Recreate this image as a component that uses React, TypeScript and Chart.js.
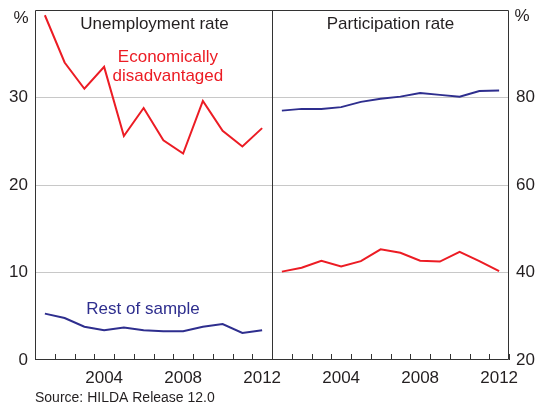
import React, { useEffect, useRef } from "react";
import { Chart, registerables } from "chart.js";

Chart.register(...registerables);

const years = [2001, 2002, 2003, 2004, 2005, 2006, 2007, 2008, 2009, 2010, 2011, 2012];
const labelYears = [2004, 2008, 2012];

// Unemployment rate (%), left panel
const unempDisadv = [39.4, 34.0, 31.0, 33.5, 25.6, 28.8, 25.1, 23.6, 29.6, 26.2, 24.4, 26.5];
const unempRest = [5.3, 4.8, 3.8, 3.4, 3.7, 3.4, 3.3, 3.3, 3.8, 4.1, 3.1, 3.4];

// Participation rate (%), right panel
const partDisadv = [40.2, 41.1, 42.7, 41.4, 42.6, 45.3, 44.5, 42.7, 42.5, 44.7, 42.6, 40.3];
const partRest = [77.0, 77.4, 77.4, 77.8, 79.0, 79.7, 80.2, 81.0, 80.6, 80.2, 81.5, 81.6];

const leftTicks = [0, 10, 20, 30, 40];
const rightTicks = [20, 40, 60, 80, 100];

const RED = "#ec1c24";
const BLUE = "#2e2e8e";
const FRAME = "#333333";
const GRID = "#c8c8c8";
const TEXT = "#231f20";
const FONT = "'Liberation Sans', Arial, sans-serif";

const n = years.length;

const leftPts = (vals: number[]) => vals.map((v, i) => ({ x: i + 0.5, y: v }));
const rightPts = (vals: number[]) => vals.map((v, i) => ({ x: n + i + 0.5, y: v }));

const decorPlugin = {
  id: "decor",
  afterDatasetsDraw(chart: any) {
    const { ctx, chartArea: a, scales } = chart;
    const xs = scales.x;
    ctx.save();
    // frame
    ctx.strokeStyle = FRAME;
    ctx.lineWidth = 1;
    ctx.beginPath();
    ctx.rect(a.left + 0.5, a.top + 0.5, a.right - a.left - 1, a.bottom - a.top - 1);
    ctx.stroke();
    // divider
    const xd = Math.round(xs.getPixelForValue(n)) + 0.5;
    ctx.beginPath();
    ctx.moveTo(xd, a.top);
    ctx.lineTo(xd, a.bottom);
    ctx.stroke();
    // inner tick marks at year boundaries
    ctx.beginPath();
    for (let i = 0; i <= 2 * n; i++) {
      const x = Math.round(xs.getPixelForValue(i)) + 0.5;
      ctx.moveTo(x, a.bottom);
      ctx.lineTo(x, a.bottom - 6);
    }
    ctx.stroke();

    // texts
    ctx.textAlign = "center";
    ctx.textBaseline = "middle";
    ctx.font = `17px ${FONT}`;
    ctx.fillStyle = TEXT;
    const leftMid = (xs.getPixelForValue(0) + xs.getPixelForValue(n)) / 2;
    const rightMid = (xs.getPixelForValue(n) + xs.getPixelForValue(2 * n)) / 2;
    ctx.fillText("Unemployment rate", leftMid + 1, a.top + 14);
    ctx.fillText("Participation rate", rightMid, a.top + 14);
    ctx.fillText("%", a.left - 14, a.top + 8);
    ctx.fillText("%", a.right + 13, a.top + 6);

    ctx.fillStyle = RED;
    ctx.fillText("Economically", xs.getPixelForValue(6.73), a.top + 47);
    ctx.fillText("disadvantaged", xs.getPixelForValue(6.73), a.top + 66);

    ctx.fillStyle = BLUE;
    ctx.fillText("Rest of sample", xs.getPixelForValue(5.47), a.top + 299);

    ctx.textAlign = "left";
    ctx.font = `14px ${FONT}`;
    ctx.fillStyle = TEXT;
    ctx.fillText("Source: HILDA Release 12.0", a.left, a.bottom + 38);
    ctx.restore();
  },
};

export default function App() {
  const ref = useRef<HTMLCanvasElement>(null);

  useEffect(() => {
    if (!ref.current) return;
    const lineDs = (data: any[], color: string, axis: string) => ({
      data,
      borderColor: color,
      backgroundColor: color,
      borderWidth: 2,
      pointRadius: 0,
      tension: 0,
      yAxisID: axis,
    });
    const chart = new Chart(ref.current, {
      type: "line",
      data: {
        datasets: [
          lineDs(leftPts(unempDisadv), RED, "y"),
          lineDs(leftPts(unempRest), BLUE, "y"),
          lineDs(rightPts(partDisadv), RED, "y2"),
          lineDs(rightPts(partRest), BLUE, "y2"),
        ],
      },
      options: {
        animation: false,
        responsive: false,
        events: [],
        layout: { padding: { top: 10, left: 0, right: 0, bottom: 0 } },
        plugins: { legend: { display: false }, tooltip: { enabled: false } },
        scales: {
          x: {
            type: "linear",
            min: 0,
            max: 2 * n,
            grid: { display: false },
            border: { display: false },
            afterBuildTicks: (scale: any) => {
              const t: any[] = [];
              [0, n].forEach((off) =>
                labelYears.forEach((y) => t.push({ value: off + years.indexOf(y) + 0.5 }))
              );
              scale.ticks = t;
            },
            afterFit: (scale: any) => {
              scale.height = 45;
              scale.paddingLeft = 0;
              scale.paddingRight = 0;
            },
            ticks: {
              autoSkip: false,
              maxRotation: 0,
              padding: 0,
              color: TEXT,
              font: { family: FONT, size: 17 },
              callback: (v: any) => String(years[Math.floor(Number(v)) % n]),
            },
          },
          y: {
            position: "left",
            min: 0,
            max: 40,
            afterBuildTicks: (scale: any) => {
              scale.ticks = leftTicks.map((v) => ({ value: v }));
            },
            afterFit: (scale: any) => {
              scale.width = 35;
              scale.paddingTop = 0;
              scale.paddingBottom = 0;
            },
            border: { display: false },
            grid: {
              drawTicks: false,
              color: (c: any) =>
                c.tick && (c.tick.value === 0 || c.tick.value === 40) ? "rgba(0,0,0,0)" : GRID,
              lineWidth: 1,
            },
            ticks: {
              padding: 7,
              color: TEXT,
              font: { family: FONT, size: 17 },
              callback: (v: any) => (Number(v) === 40 ? "" : String(v)),
            },
          },
          y2: {
            position: "right",
            min: 20,
            max: 100,
            afterBuildTicks: (scale: any) => {
              scale.ticks = rightTicks.map((v) => ({ value: v }));
            },
            afterFit: (scale: any) => {
              scale.width = 35;
              scale.paddingTop = 0;
              scale.paddingBottom = 0;
            },
            border: { display: false },
            grid: { display: false, drawTicks: false },
            ticks: {
              padding: 7,
              color: TEXT,
              font: { family: FONT, size: 17 },
              callback: (v: any) => (Number(v) === 100 ? "" : String(v)),
            },
          },
        },
      } as any,
      plugins: [decorPlugin],
    });
    return () => chart.destroy();
  }, []);

  return (
    <div style={{ position: "fixed", left: 0, top: 0, width: 544, height: 405, background: "#fff" }}>
      <canvas ref={ref} width={544} height={405} style={{ width: 544, height: 405 }} />
    </div>
  );
}
